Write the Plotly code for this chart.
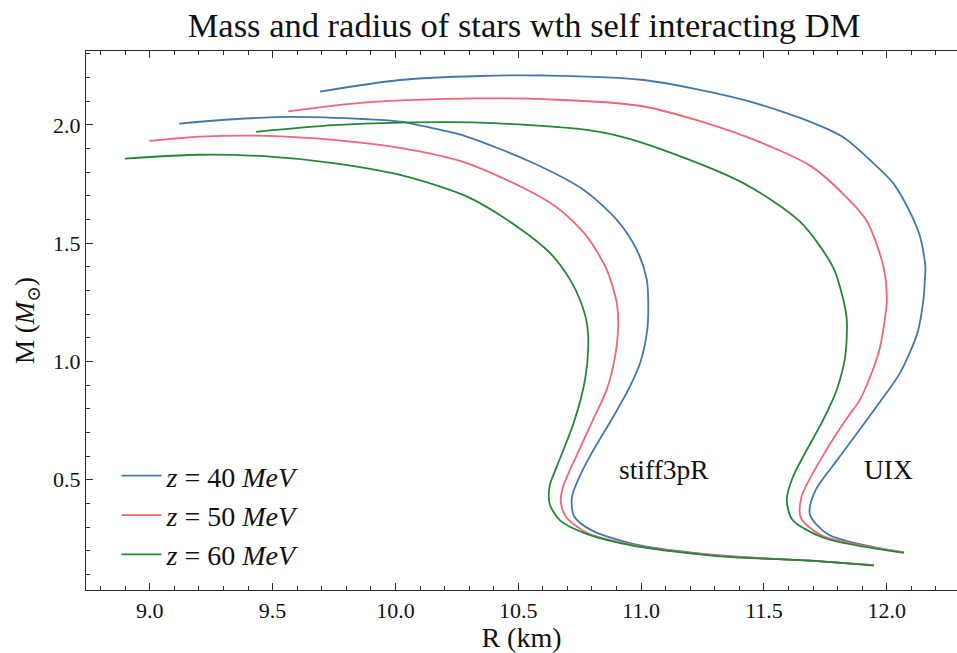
import plotly.graph_objects as go

# ---------------- data ----------------
# stiff3pR EoS
stiff_R_40 = [9.120, 9.340, 9.571, 9.883, 10.019, 10.154, 10.290, 10.561, 10.765, 10.901, 10.982, 11.023, 11.029,
              11.025, 10.996, 10.941, 10.880, 10.792, 10.744, 10.718, 10.727, 10.799, 10.975, 11.321, 11.687, 11.947]
stiff_M_40 = [2.006, 2.024, 2.034, 2.024, 2.014, 1.986, 1.951, 1.839, 1.726, 1.599, 1.473, 1.346, 1.247,
              1.135, 0.994, 0.867, 0.755, 0.600, 0.501, 0.424, 0.346, 0.286, 0.227, 0.180, 0.158, 0.139]

stiff_R_50 = [8.998, 9.205, 9.476, 9.747, 10.019, 10.290, 10.561, 10.670, 10.779, 10.860, 10.901, 10.907, 10.894,
              10.860, 10.805, 10.724, 10.683, 10.673, 10.694, 10.779, 10.968, 11.321, 11.687, 11.947]
stiff_M_50 = [1.933, 1.951, 1.954, 1.937, 1.903, 1.839, 1.712, 1.641, 1.529, 1.388, 1.247, 1.163, 1.022,
              0.881, 0.755, 0.572, 0.473, 0.410, 0.344, 0.276, 0.224, 0.179, 0.158, 0.139]

stiff_R_60 = [8.899, 9.205, 9.476, 9.747, 10.019, 10.290, 10.494, 10.629, 10.711, 10.751, 10.779, 10.785, 10.772,
              10.726, 10.658, 10.628, 10.628, 10.671, 10.780, 10.970, 11.336, 11.689, 11.947]
stiff_M_60 = [1.858, 1.874, 1.867, 1.839, 1.789, 1.698, 1.571, 1.459, 1.346, 1.261, 1.163, 1.064, 0.924,
              0.742, 0.559, 0.475, 0.397, 0.327, 0.270, 0.221, 0.175, 0.158, 0.137]

# UIX EoS
uix_R_40 = [9.693, 10.019, 10.344, 10.604, 11.011, 11.418, 11.689, 11.823, 11.960, 12.026, 12.096, 12.135, 12.157,
            12.155, 12.149, 12.125, 12.054, 11.979, 11.887, 11.797, 11.708, 11.687, 11.762, 12.069]
uix_M_40 = [2.141, 2.190, 2.207, 2.209, 2.190, 2.106, 2.013, 1.948, 1.824, 1.754, 1.628, 1.529, 1.402,
            1.346, 1.261, 1.122, 0.952, 0.839, 0.708, 0.582, 0.452, 0.353, 0.269, 0.193]

uix_R_50 = [9.564, 9.883, 10.344, 10.604, 11.011, 11.418, 11.689, 11.822, 11.918, 11.986, 12.000, 11.990,
            11.970, 11.936, 11.891, 11.834, 11.755, 11.654, 11.650, 11.736, 12.069]
uix_M_50 = [2.057, 2.095, 2.112, 2.109, 2.078, 1.954, 1.827, 1.709, 1.595, 1.402, 1.261, 1.164,
            1.050, 0.945, 0.839, 0.755, 0.628, 0.431, 0.340, 0.264, 0.193]

uix_R_60 = [9.433, 9.747, 10.019, 10.344, 10.739, 10.914, 11.077, 11.416, 11.647, 11.782, 11.823, 11.837, 11.831,
            11.797, 11.742, 11.619, 11.593, 11.615, 11.742, 12.069]
uix_M_60 = [1.971, 1.999, 2.010, 2.010, 1.984, 1.952, 1.899, 1.754, 1.591, 1.397, 1.261, 1.177, 1.024,
            0.883, 0.755, 0.515, 0.417, 0.332, 0.255, 0.191]

series_names = ["<i>z</i> = 40 <i>MeV</i>", "<i>z</i> = 50 <i>MeV</i>", "<i>z</i> = 60 <i>MeV</i>"]
colors = ["#4477AA", "#EE6677", "#228833"]

eos_labels = ["stiff3pR", "UIX"]
eos_label_R = [10.9, 11.9]
eos_label_M = [0.5, 0.5]

x_range = [8.7405, 12.2857]
y_range = [0.034, 2.3126]

FONT = "'Liberation Serif', 'Times New Roman', 'DejaVu Serif', serif"

fig = go.Figure()

stiff = [(stiff_R_40, stiff_M_40), (stiff_R_50, stiff_M_50), (stiff_R_60, stiff_M_60)]
uix = [(uix_R_40, uix_M_40), (uix_R_50, uix_M_50), (uix_R_60, uix_M_60)]

for i, (r, m) in enumerate(stiff):
    fig.add_trace(go.Scatter(x=r, y=m, mode="lines", name=series_names[i],
                             line=dict(color=colors[i], width=1.8, shape="spline", smoothing=0.8),
                             showlegend=True))
for i, (r, m) in enumerate(uix):
    fig.add_trace(go.Scatter(x=r, y=m, mode="lines", name=series_names[i],
                             line=dict(color=colors[i], width=1.8, shape="spline", smoothing=0.8),
                             showlegend=False))

for lab, rx, my in zip(eos_labels, eos_label_R, eos_label_M):
    fig.add_annotation(x=rx, y=my, xref="x", yref="y", text=lab, showarrow=False,
                       xanchor="left", yanchor="bottom", yshift=-7,
                       font=dict(family=FONT, size=27.5, color="#111"))

axis_common = dict(
    showline=True, linecolor="#2a2a2a", linewidth=1.3,
    ticks="inside", ticklen=7, tickwidth=1.2, tickcolor="#2a2a2a",
    showgrid=False, zeroline=False,
    tickfont=dict(family=FONT, size=22, color="#111"),
    tickformat=".1f",
)

fig.update_layout(
    width=957, height=653,
    margin=dict(l=86, r=0, t=51, b=63),
    paper_bgcolor="white", plot_bgcolor="white",
    title=dict(text="Mass and radius of stars wth self interacting DM",
               font=dict(family=FONT, size=34.5, color="#111"),
               x=524 / 957, xref="container", xanchor="center",
               y=1 - 25 / 653, yref="container", yanchor="middle"),
    xaxis=dict(range=x_range, dtick=0.5, tick0=0, mirror="ticks",
               minor=dict(dtick=0.1, ticks="inside", ticklen=3.5, tickwidth=1, tickcolor="#2a2a2a"),
               title=dict(text="R (km)", font=dict(family=FONT, size=28, color="#111"), standoff=8),
               **axis_common),
    yaxis=dict(range=y_range, dtick=0.5, tick0=0, mirror=False,
               minor=dict(dtick=0.1, ticks="inside", ticklen=3.5, tickwidth=1, tickcolor="#2a2a2a"),
               title=dict(text="M (<i>M</i><sub>⊙</sub>)", font=dict(family=FONT, size=27, color="#111"), standoff=10),
               **axis_common),
    legend=dict(x=0.035, y=0.258, xanchor="left", yanchor="top",
                font=dict(family=FONT, size=28, color="#111"),
                bgcolor="rgba(0,0,0,0)", borderwidth=0, itemwidth=40, tracegroupgap=0),
    showlegend=True,
)

fig.write_html("out.html")
